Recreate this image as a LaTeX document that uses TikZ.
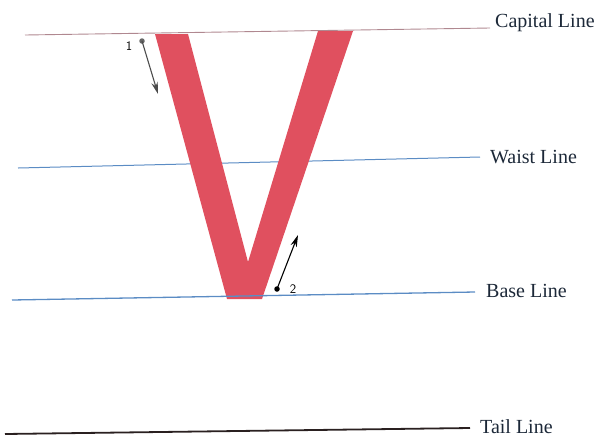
\documentclass[tikz,border=0pt]{standalone}
\usepackage{fontspec}
\setmainfont{Liberation Serif}
\usetikzlibrary{arrows.meta}
\definecolor{vred}{HTML}{E0505F}
\definecolor{capline}{HTML}{B08890}
\definecolor{blueline}{HTML}{5B8CC4}
\definecolor{tailline}{HTML}{2A2020}
\definecolor{labtext}{HTML}{1C2838}
\begin{document}
\begin{tikzpicture}[x=1pt,y=-1pt,
  guidelabel/.style={anchor=west,inner sep=0pt,font=\fontsize{20}{22}\selectfont,text=labtext},
  numlabel/.style={inner sep=0pt,font=\sffamily\fontsize{13}{14}\selectfont},
  dirarrow/.style={-{Stealth[length=12pt,width=6.5pt]},line width=1.1pt},
  dotmark/.style={circle,inner sep=0pt,minimum size=5.5pt}]
\useasboundingbox (0,0) rectangle (605,440);
% guide lines
\coordinate (c1) at (25,35); \coordinate (c2) at (490,28);
\coordinate (w1) at (18,168); \coordinate (w2) at (480,157);
\coordinate (b1) at (12,300); \coordinate (b2) at (475,292);
\coordinate (t1) at (5,434); \coordinate (t2) at (470,428);
\draw[capline,line width=0.9pt] (c1) -- (c2);
\draw[blueline,line width=1pt] (w1) -- (w2);
% V
\fill[vred] (155,34) -- (188,34) -- (248,262) -- (318,31) -- (353,31) -- (262,299) -- (227,299) -- cycle;
\draw[blueline,line width=1.3pt] (b1) -- (b2);
\draw[tailline,line width=1.8pt] (t1) -- (t2);
\node[guidelabel] (capl) at (495,23) {Capital Line};
\node[guidelabel] (waistl) at (490,157) {Waist Line};
\node[guidelabel] (basel) at (486,291) {Base Line};
\node[guidelabel] (taill) at (480,427) {Tail Line};
% stroke arrows
\node[dotmark,fill=black!60] (d1) at (142,41) {};
\coordinate (e1) at (158,94);
\draw[dirarrow,black!70] (d1.center) -- (e1);
\node[numlabel] (n1) at (129,46) {1};
\node[dotmark,fill=black] (d2) at (277,289) {};
\coordinate (e2) at (298,235);
\draw[dirarrow,black] (d2.center) -- (e2);
\node[numlabel] (n2) at (293,289) {2};
\end{tikzpicture}
\end{document}
